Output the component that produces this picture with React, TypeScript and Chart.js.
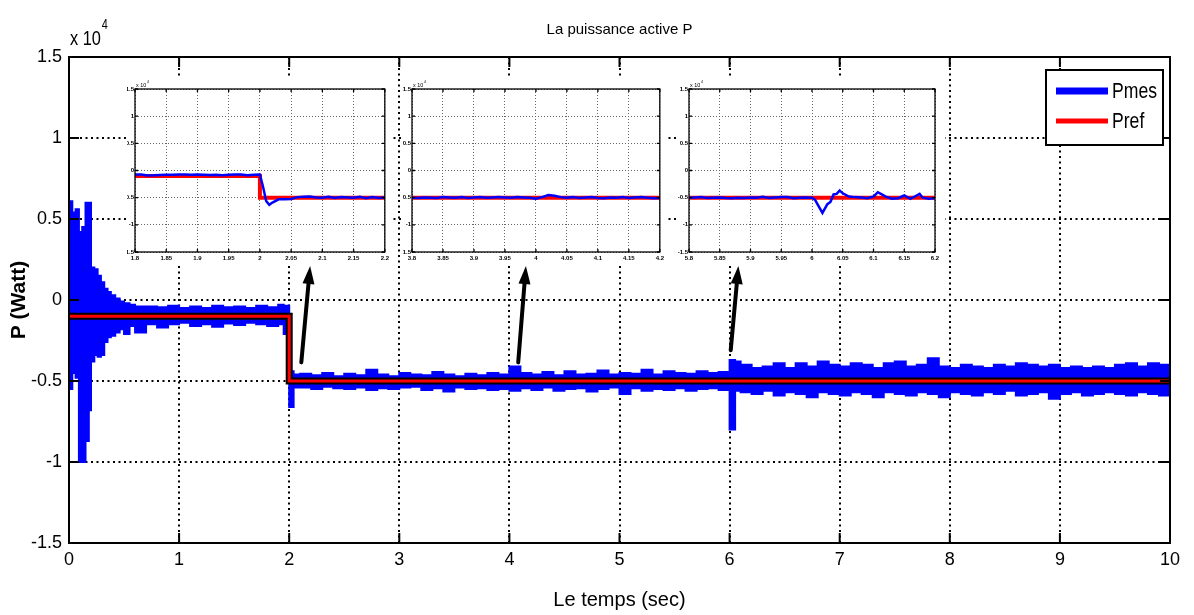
import React, { useEffect, useRef } from 'react';
import { Chart, registerables } from 'chart.js';

Chart.register(...registerables);

const NARROW = "'Liberation Sans Narrow', 'Arial Narrow', 'Liberation Sans', Arial, sans-serif";
const SANS = "'Liberation Sans', Arial, sans-serif";

// ---------- text ----------
const TITLE = 'La puissance active P';
const X_LABEL = 'Le temps (sec)';
const Y_LABEL = 'P (Watt)';
const LABEL_PMES = 'Pmes';
const LABEL_PREF = 'Pref';

// ---------- reference power Pref (W) ----------
const PREF_T = [0, 2, 2, 10];
const PREF_V = [-1000, -1000, -5000, -5000];

// ---------- measured power Pmes envelope (W), main plot ----------
const MAIN_T = [
  0, 0.03, 0.06, 0.09, 0.12, 0.15, 0.18, 0.2, 0.23, 0.26, 0.29, 0.32, 0.35, 0.38, 0.42, 0.46, 0.5, 0.55, 0.6,
  0.7, 0.8, 0.9, 1.0, 1.1, 1.2, 1.3, 1.4, 1.5, 1.6, 1.7, 1.8, 1.9, 1.95, 2.0, 2.04,
  2.1, 2.2, 2.3, 2.4, 2.5, 2.6, 2.7, 2.8, 2.9, 3.0, 3.1, 3.2, 3.3, 3.4, 3.5, 3.6, 3.7, 3.8, 3.9,
  4.0, 4.1, 4.2, 4.3, 4.4, 4.5, 4.6, 4.7, 4.8, 4.9, 5.0, 5.1, 5.2, 5.3, 5.4, 5.5, 5.6, 5.7, 5.8, 5.9,
  6.0, 6.05, 6.1, 6.2, 6.3, 6.4, 6.5, 6.6, 6.7, 6.8, 6.9, 7.0, 7.1, 7.2, 7.3, 7.4, 7.5, 7.6, 7.7, 7.8, 7.9,
  8.0, 8.1, 8.2, 8.3, 8.4, 8.5, 8.6, 8.7, 8.8, 8.9, 9.0, 9.1, 9.2, 9.3, 9.4, 9.5, 9.6, 9.7, 9.8, 9.9, 10.0,
];
const MAIN_HI = [
  6100, 5400, 5600, 4200, 4500, 6000, 6000, 2000, 1900, 1500, 1100, 700, 500, 300, 100, -100, -200, -300, -400,
  -400, -450, -350, -500, -400, -500, -350, -450, -400, -500, -350, -450, -300, -350, -4400, -4600,
  -4550, -4650, -4500, -4700, -4550, -4650, -4300, -4600, -4700, -4500, -4600, -4650, -4450, -4600, -4700, -4550, -4650, -4500, -4600,
  -4100, -4500, -4600, -4450, -4650, -4400, -4600, -4550, -4350, -4600, -4500, -4550, -4300, -4600, -4400, -4500, -4550, -4400, -4500, -4450,
  -3700, -3800, -4000, -4200, -4100, -3900, -4200, -3900, -4100, -3800, -4000, -4100, -3900, -4000, -4200, -3900, -3800, -4100, -4000, -3600, -4100,
  -4200, -4000, -4100, -4200, -4000, -4100, -3900, -4000, -4100, -4000, -4200, -4100, -4200, -4100, -4200, -4000, -3900, -4100, -3900, -4000, -4100,
];
const MAIN_LO = [
  -5500, -4500, -4800, -10000, -10000, -8700, -6800, -3800, -3400, -3500, -3400, -2600, -2300, -2200, -2000, -1800, -2100, -1600, -2000,
  -1500, -1700, -1500, -1400, -1600, -1500, -1650, -1450, -1550, -1400, -1500, -1600, -1500, -2100, -6600, -5400,
  -5400, -5500, -5350, -5450, -5500, -5400, -5550, -5450, -5500, -5400, -5350, -5550, -5450, -5650, -5400, -5500, -5450, -5550, -5500,
  -5600, -5450, -5550, -5400, -5600, -5500, -5450, -5650, -5500, -5400, -5800, -5450, -5600, -5500, -5550, -5450, -5600, -5500, -5450, -5550,
  -8000, -5600, -5700, -5800, -5600, -5900, -5700, -5800, -6000, -5700, -5800, -5900, -5700, -5800, -6000, -5700, -5800, -5900, -5700, -5800, -6000,
  -5700, -5800, -5900, -5700, -5800, -5600, -5900, -5800, -5700, -6100, -5800, -5700, -5900, -5800, -5700, -5800, -5900, -5700, -5800, -5900, -5800,
];

// ---------- zoom windows (W) ----------
const INSET1_T = [
  1.8, 1.81, 1.82, 1.83, 1.84, 1.85, 1.86, 1.87, 1.88, 1.89, 1.9, 1.91, 1.92, 1.93, 1.94, 1.95, 1.96, 1.97, 1.98, 1.99,
  2.0, 2.005, 2.01, 2.015, 2.02, 2.03, 2.04, 2.05, 2.06, 2.07, 2.08, 2.09, 2.1, 2.11, 2.12, 2.13, 2.14, 2.15, 2.16, 2.17, 2.18, 2.19, 2.2,
];
const INSET1_V = [
  -750, -720, -900, -880, -820, -760, -800, -720, -740, -780, -730, -760, -850, -780, -880, -780, -720, -740, -860, -780,
  -750, -3000, -5600, -6300, -5900, -5300, -5300, -5250, -4900, -4850, -4800, -4950, -5000, -4850, -5050, -4900, -4950, -5000, -4850, -5100, -4900, -5050, -4950,
];
const INSET2_T = [
  3.8, 3.81, 3.82, 3.83, 3.84, 3.85, 3.86, 3.87, 3.88, 3.89, 3.9, 3.91, 3.92, 3.93, 3.94, 3.95, 3.96, 3.97, 3.98, 3.99,
  4.0, 4.01, 4.02, 4.03, 4.04, 4.05, 4.06, 4.07, 4.08, 4.09, 4.1, 4.11, 4.12, 4.13, 4.14, 4.15, 4.16, 4.17, 4.18, 4.19, 4.2,
];
const INSET2_V = [
  -5000, -5050, -4950, -5000, -5050, -4900, -4950, -5000, -4900, -5050, -4950, -4900, -5000, -4950, -4900, -4950, -5000, -4900, -4950, -5000,
  -5200, -4900, -4500, -4650, -4900, -5000, -4900, -5050, -4950, -4900, -5050, -5100, -4950, -5000, -4900, -5050, -4950, -4900, -5000, -5100, -5050,
];
const INSET3_T = [
  5.8, 5.81, 5.82, 5.83, 5.84, 5.85, 5.86, 5.87, 5.88, 5.89, 5.9, 5.91, 5.92, 5.93, 5.94, 5.95, 5.96, 5.97, 5.98, 5.99,
  6.0, 6.005, 6.01, 6.017, 6.025, 6.03, 6.035, 6.04, 6.045, 6.05, 6.06, 6.07, 6.08, 6.09, 6.1, 6.107, 6.115, 6.12, 6.13,
  6.14, 6.15, 6.16, 6.17, 6.175, 6.18, 6.19, 6.2,
];
const INSET3_V = [
  -5000, -4950, -4900, -5050, -5000, -4950, -5050, -5100, -5000, -5050, -4950, -5000, -4850, -5050, -4950, -4900, -4900, -5100, -5000, -4950,
  -5000, -5400, -6400, -7800, -6200, -5800, -4400, -4300, -3700, -4200, -4800, -4900, -4950, -5100, -4800, -4000, -4500, -4800, -5200,
  -5100, -4600, -5200, -4600, -4300, -5000, -5200, -5100,
];

// ---------- arrows (data coordinates) ----------
const ARROW_FROM_T = [2.11, 4.08, 6.01];
const ARROW_FROM_P = [-3850, -3850, -3100];
const ARROW_TO_T = [2.19, 4.15, 6.08];
const ARROW_TO_P = [2100, 2100, 2100];

const toXY = (t: number[], v: number[]) => t.map((x, i) => ({ x, y: v[i] }));

function framePlugin(len: number, width: number) {
  return {
    id: 'frame',
    afterDraw(chart: any) {
      const { ctx, chartArea: a, scales } = chart;
      ctx.save();
      ctx.strokeStyle = '#000';
      ctx.lineWidth = width;
      ctx.setLineDash([]);
      ctx.beginPath();
      scales.x.ticks.forEach((t: any) => {
        const px = scales.x.getPixelForValue(t.value);
        ctx.moveTo(px, a.bottom); ctx.lineTo(px, a.bottom - len);
        ctx.moveTo(px, a.top); ctx.lineTo(px, a.top + len);
      });
      scales.y.ticks.forEach((t: any) => {
        const py = scales.y.getPixelForValue(t.value);
        ctx.moveTo(a.left, py); ctx.lineTo(a.left + len, py);
        ctx.moveTo(a.right, py); ctx.lineTo(a.right - len, py);
      });
      ctx.stroke();
      ctx.strokeRect(a.left, a.top, a.right - a.left, a.bottom - a.top);
      ctx.restore();
    },
  };
}

function multiplierPlugin(size: number, supSize: number, dx: number, dy: number, sx: number) {
  return {
    id: 'multiplier',
    afterDraw(chart: any) {
      const { ctx, chartArea: a } = chart;
      ctx.save();
      ctx.fillStyle = '#000';
      ctx.textBaseline = 'alphabetic';
      ctx.translate(a.left + dx, a.top + dy);
      ctx.scale(sx, 1);
      ctx.font = `${size}px ${NARROW}`;
      const base = 'x 10';
      ctx.fillText(base, 0, 0);
      const w = ctx.measureText(base).width;
      ctx.font = `${supSize}px ${NARROW}`;
      ctx.fillText('4', w + 1, -size * 0.75);
      ctx.restore();
    },
  };
}

const arrowsPlugin = {
  id: 'arrows',
  afterDatasetsDraw(chart: any) {
    const { ctx, scales } = chart;
    ctx.save();
    ctx.strokeStyle = '#000';
    ctx.fillStyle = '#000';
    ctx.lineWidth = 4;
    ctx.lineCap = 'round';
    for (let i = 0; i < ARROW_FROM_T.length; i++) {
      const x0 = scales.x.getPixelForValue(ARROW_FROM_T[i]);
      const y0 = scales.y.getPixelForValue(ARROW_FROM_P[i]);
      const x1 = scales.x.getPixelForValue(ARROW_TO_T[i]);
      const y1 = scales.y.getPixelForValue(ARROW_TO_P[i]);
      const ang = Math.atan2(y1 - y0, x1 - x0);
      const head = 18;
      const half = 6;
      const bx = x1 - head * Math.cos(ang);
      const by = y1 - head * Math.sin(ang);
      ctx.beginPath();
      ctx.moveTo(x0, y0);
      ctx.lineTo(bx + 2 * Math.cos(ang), by + 2 * Math.sin(ang));
      ctx.stroke();
      ctx.beginPath();
      ctx.moveTo(x1, y1);
      ctx.lineTo(bx + half * Math.sin(ang), by - half * Math.cos(ang));
      ctx.lineTo(bx - half * Math.sin(ang), by + half * Math.cos(ang));
      ctx.closePath();
      ctx.fill();
    }
    ctx.restore();
  },
};

const legendPlugin = {
  id: 'boxLegend',
  afterDraw(chart: any) {
    const { ctx, chartArea: a } = chart;
    const ds = chart.data.datasets;
    const w = 117;
    const h = 75;
    const x = a.right - 7 - w;
    const y = a.top + 13;
    ctx.save();
    ctx.fillStyle = '#fff';
    ctx.fillRect(x, y, w, h);
    ctx.strokeStyle = '#000';
    ctx.lineWidth = 2;
    ctx.strokeRect(x, y, w, h);
    const items = [
      { d: ds[2], dy: 21, lw: 7 },
      { d: ds[0], dy: 51, lw: 5 },
    ];
    items.forEach((it) => {
      ctx.strokeStyle = it.d.borderColor;
      ctx.lineWidth = it.lw;
      ctx.beginPath();
      ctx.moveTo(x + 10, y + it.dy);
      ctx.lineTo(x + 62, y + it.dy);
      ctx.stroke();
      ctx.save();
      ctx.fillStyle = '#000';
      ctx.font = `22px ${NARROW}`;
      ctx.textBaseline = 'middle';
      ctx.translate(x + 66, y + it.dy + 1);
      ctx.scale(0.8, 1);
      ctx.fillText(it.d.label, 0, 0);
      ctx.restore();
    });
    ctx.restore();
  },
};

function mainConfig(): any {
  const tickFont = { family: NARROW, size: 18 };
  return {
    type: 'line',
    data: {
      datasets: [
        { label: LABEL_PREF, data: toXY(PREF_T, PREF_V), borderColor: '#ff0000', borderWidth: 3, pointRadius: 0, fill: false },
        { label: 'Pref edge', data: toXY(PREF_T, PREF_V), borderColor: '#000000', borderWidth: 7, pointRadius: 0, fill: false },
        { label: LABEL_PMES, data: toXY(MAIN_T, MAIN_HI), borderColor: '#0000ff', backgroundColor: '#0000ff', borderWidth: 2, pointRadius: 0, stepped: true, fill: '+1' },
        { label: 'Pmes low', data: toXY(MAIN_T, MAIN_LO), borderColor: '#0000ff', backgroundColor: '#0000ff', borderWidth: 2, pointRadius: 0, stepped: true, fill: false },
      ],
    },
    options: {
      responsive: false,
      animation: false,
      devicePixelRatio: 1,
      layout: { padding: { left: 0, right: 24, top: 0, bottom: 0 } },
      plugins: {
        legend: { display: false },
        tooltip: { enabled: false },
        title: {
          display: true,
          text: TITLE,
          fullSize: false,
          color: '#000',
          font: { family: NARROW, size: 15, weight: 'normal' },
          padding: { top: 21, bottom: 18 },
        },
      },
      scales: {
        x: {
          type: 'linear',
          min: 0,
          max: 10,
          ticks: { stepSize: 1, font: tickFont, color: '#000', padding: 6, maxRotation: 0, autoSkip: false },
          grid: { color: '#000', lineWidth: 2, drawTicks: false },
          border: { display: false, dash: [2, 3.5] },
          title: { display: true, text: X_LABEL, color: '#000', font: { family: NARROW, size: 20 }, padding: { top: 0, bottom: 3 } },
          afterFit: (s: any) => { s.height = 72; },
        },
        y: {
          type: 'linear',
          min: -15000,
          max: 15000,
          ticks: { stepSize: 5000, font: tickFont, color: '#000', padding: 7, callback: (v: number) => String(v / 1e4) },
          grid: { color: '#000', lineWidth: 2, drawTicks: false },
          border: { display: false, dash: [2, 3.5] },
          title: { display: true, text: Y_LABEL, color: '#000', font: { family: SANS, size: 21, weight: 'bold' }, padding: { top: 7, bottom: 0 } },
          afterFit: (s: any) => { s.width = 69; },
        },
      },
    },
    plugins: [arrowsPlugin, framePlugin(10, 2), legendPlugin, multiplierPlugin(21, 14, 1, -12, 0.78)],
  };
}

function insetConfig(t: number[], v: number[], xmin: number, xmax: number, yw: number, rpad: number): any {
  const f = { family: SANS, size: 6, weight: 'bold' };
  return {
    type: 'line',
    data: {
      datasets: [
        { label: LABEL_PMES, data: toXY(t, v), borderColor: '#0000ff', borderWidth: 2.5, pointRadius: 0, fill: false },
        { label: LABEL_PREF, data: toXY(PREF_T, PREF_V), borderColor: '#ff0000', borderWidth: 4, pointRadius: 0, fill: false },
      ],
    },
    options: {
      responsive: false,
      animation: false,
      devicePixelRatio: 1,
      layout: { padding: { left: 0, right: rpad, top: 13, bottom: 0 } },
      plugins: { legend: { display: false }, tooltip: { enabled: false }, title: { display: false } },
      scales: {
        x: {
          type: 'linear',
          min: xmin,
          max: xmax,
          ticks: { stepSize: 0.05, font: f, color: '#000', padding: 3, maxRotation: 0, autoSkip: false, callback: (val: number) => String(Number(val.toFixed(2))) },
          grid: { color: '#666', lineWidth: 1, drawTicks: false },
          border: { display: false, dash: [1, 2] },
          afterFit: (s: any) => { s.height = 13; },
        },
        y: {
          type: 'linear',
          min: -15000,
          max: 15000,
          ticks: { stepSize: 5000, font: f, color: '#000', padding: 1, callback: (val: number) => String(val / 1e4) },
          grid: { color: '#666', lineWidth: 1, drawTicks: false },
          border: { display: false, dash: [1, 2] },
          afterFit: (s: any) => { s.width = yw; },
        },
      },
    },
    plugins: [framePlugin(3, 1.3), multiplierPlugin(6, 4, 1, -2, 0.9)],
  };
}

const INSETS = [
  { t: INSET1_T, v: INSET1_V, xmin: 1.8, xmax: 2.2, left: 127, width: 265, yw: 8, rpad: 6 },
  { t: INSET2_T, v: INSET2_V, xmin: 3.8, xmax: 4.2, left: 403, width: 264, yw: 9, rpad: 7 },
  { t: INSET3_T, v: INSET3_V, xmin: 5.8, xmax: 6.2, left: 678, width: 267, yw: 11, rpad: 10 },
];

export default function App() {
  const mainRef = useRef<HTMLCanvasElement>(null);
  const r1 = useRef<HTMLCanvasElement>(null);
  const r2 = useRef<HTMLCanvasElement>(null);
  const r3 = useRef<HTMLCanvasElement>(null);
  const refs = [r1, r2, r3];

  useEffect(() => {
    const charts: Chart[] = [];
    if (mainRef.current) charts.push(new Chart(mainRef.current, mainConfig()));
    INSETS.forEach((ins, i) => {
      const c = refs[i].current;
      if (c) charts.push(new Chart(c, insetConfig(ins.t, ins.v, ins.xmin, ins.xmax, ins.yw, ins.rpad)));
    });
    return () => charts.forEach((c) => c.destroy());
  }, []);

  return (
    <div style={{ position: 'fixed', left: 0, top: 0, width: 1194, height: 615, background: '#fff', overflow: 'hidden' }}>
      <canvas ref={mainRef} width={1194} height={615} style={{ position: 'absolute', left: 0, top: 0 }} />
      {INSETS.map((ins, i) => (
        <canvas
          key={i}
          ref={refs[i]}
          width={ins.width}
          height={189}
          style={{ position: 'absolute', left: ins.left, top: 76, background: '#fff' }}
        />
      ))}
    </div>
  );
}
